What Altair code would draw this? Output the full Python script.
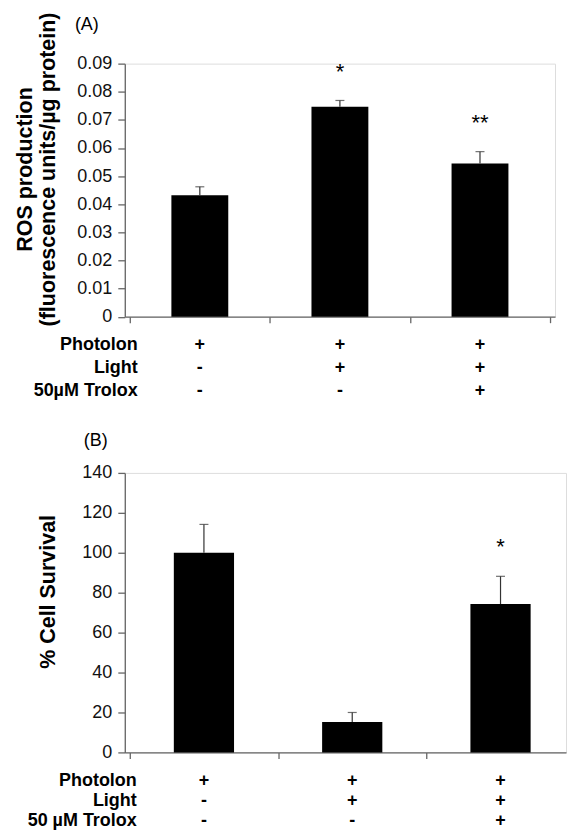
import altair as alt
import pandas as pd

# ---- data ----
idx = [0, 1, 2]
photolon = ["+", "+", "+"]
light = ["-", "+", "+"]
trolox = ["-", "-", "+"]

ros_mean = [0.0432, 0.0747, 0.0545]
ros_err = [0.0030, 0.0022, 0.0042]
ros_sig = ["", "*", "**"]

surv_mean = [100.0, 15.2, 74.3]
surv_err = [14.2, 4.8, 13.9]
surv_sig = ["", "", "*"]

rows_a = ["Photolon", "Light", "50µM Trolox"]
rows_b = ["Photolon", "Light", "50 µM Trolox"]

ros_ticks = [0, 0.01, 0.02, 0.03, 0.04, 0.05, 0.06, 0.07, 0.08, 0.09]
surv_ticks = [0, 20, 40, 60, 80, 100, 120, 140]

FONT = "Liberation Sans"
AXIS_COL = "#666666"


def panel(means, errs, sig, row_names, tag, ytitle, ydomain, yticks, yfmt,
          width, height, xmax, xticks, title_x, title_y, tag_x, tag_y, row_y,
          row_label_x):
    df = pd.DataFrame({
        "idx": idx, "mean": means, "err": errs, "sig": sig,
        "r0": photolon, "r1": light, "r2": trolox,
    })
    base = alt.Chart(df).transform_calculate(
        xa="datum.idx - 0.203", xb="datum.idx + 0.203",
        top="datum.mean + datum.err", zero="0",
    )
    xscale = alt.Scale(domain=[-0.5, xmax], nice=False, zero=False)
    yscale = alt.Scale(domain=ydomain, nice=False)
    xaxis = alt.Axis(values=xticks, labels=False, title=None, grid=False,
                     domainColor=AXIS_COL, tickColor=AXIS_COL,
                     tickSize=6, domainWidth=1.3, tickWidth=1.3)
    yaxis = alt.Axis(values=yticks, format=yfmt, grid=False, labelOverlap=False,
                     title=ytitle, titleFont=FONT, titleFontSize=21.5,
                     titleFontWeight="bold", titleColor="black",
                     titleAngle=-90, titleAlign="center",
                     titleBaseline="middle", titleLineHeight=23,
                     titleX=title_x, titleY=title_y,
                     labelFont=FONT, labelFontSize=18,
                     labelColor="#111111", labelPadding=6,
                     domainColor=AXIS_COL, tickColor=AXIS_COL,
                     tickSize=7, domainWidth=1.3, tickWidth=1.3)

    def X(f):
        return alt.X(f, type="quantitative", scale=xscale, axis=xaxis)

    def Y(f):
        return alt.Y(f, type="quantitative", scale=yscale, axis=yaxis)

    bars = base.mark_bar(color="black", orient="vertical").encode(
        x=X("xa"), x2="xb:Q", y=Y("mean"), y2="zero:Q")
    rule = base.mark_rule(color="#333333", strokeWidth=1.2).encode(
        x=X("idx"), y=Y("mean"), y2="top:Q")
    cap = base.mark_tick(color="#333333", orient="horizontal", size=9,
                         thickness=1.2).encode(x=X("idx"), y=Y("top"))
    stars = base.mark_text(font=FONT, fontSize=22, color="black", dy=-22,
                           baseline="alphabetic").encode(
        x=X("idx"), y=Y("top"), text="sig:N")

    layers = [bars, rule, cap, stars]

    tagl = alt.Chart(pd.DataFrame({"t": [tag]})).mark_text(
        font=FONT, fontSize=18, color="black", baseline="middle", align="center"
    ).encode(x=alt.value(tag_x), y=alt.value(tag_y), text="t:N")
    layers.append(tagl)

    for k, name in enumerate(row_names):
        lab = alt.Chart(pd.DataFrame({"t": [name]})).mark_text(
            font=FONT, fontSize=18, fontWeight="bold", color="black",
            align="right", baseline="middle"
        ).encode(x=alt.value(row_label_x), y=alt.value(row_y[k]), text="t:N")
        signs = base.mark_text(
            font=FONT, fontSize=18, fontWeight="bold", color="black",
            align="center", baseline="middle"
        ).encode(x=X("idx"), y=alt.value(row_y[k]), text=f"r{k}:N")
        layers += [lab, signs]

    return alt.layer(*layers).properties(width=width, height=height)


panel_a = panel(ros_mean, ros_err, ros_sig, rows_a, "(A)",
                ["ROS production", "(fluorescence units/µg protein)"],
                [0, 0.09], ros_ticks, ".2~f",
                width=431, height=253.5, xmax=2.5,
                xticks=[-0.5, 0.5, 1.5, 2.5],
                title_x=-99.5, title_y=105.5, tag_x=-38, tag_y=-38.5,
                row_y=[253.5 + 28, 253.5 + 51, 253.5 + 74], row_label_x=13)

panel_b = panel(surv_mean, surv_err, surv_sig, rows_b, "(B)",
                "% Cell Survival", [0, 140], surv_ticks, "d",
                width=442, height=280, xmax=-0.5 + 442 / 152,
                xticks=[-0.5, 0.5, 1.5],
                title_x=-76, title_y=118.7, tag_x=-29, tag_y=-31.5,
                row_y=[280 + 29, 280 + 49, 280 + 69], row_label_x=12)

chart = alt.vconcat(panel_a, panel_b, spacing=156, bounds="flush").properties(
    padding={"left": 5, "top": 2, "right": 2, "bottom": 0}
).configure_view(stroke=None).configure(background="white")

chart.save("out.html", embed_options={"renderer": "svg", "actions": False})
